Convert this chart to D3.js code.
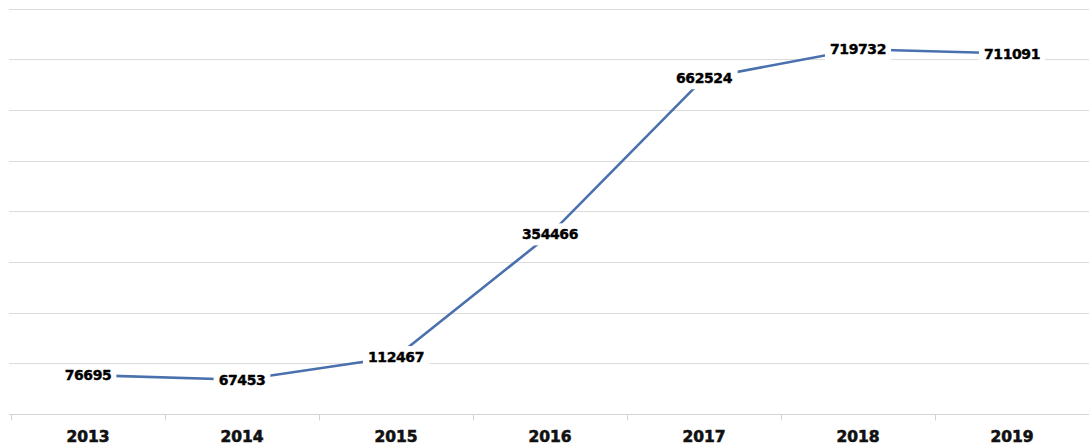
<!DOCTYPE html>
<html>
<head>
<meta charset="utf-8">
<script src="https://cdn.jsdelivr.net/npm/d3@7"></script>
<style>
  body { margin: 0; background: #fff; }
</style>
</head>
<body>
<script>
// data
const years = ["2013", "2014", "2015", "2016", "2017", "2018", "2019"];
const values = [76695, 67453, 112467, 354466, 662524, 719732, 711091];
const gridValues = [100000, 200000, 300000, 400000, 500000, 600000, 700000, 800000];

const width = 1089, height = 445;
const mLeft = 11, mRight = 1089, mTop = 8.5, mBottom = 414;

const svg = d3.select("body").append("svg")
    .attr("width", width)
    .attr("height", height);

const x = d3.scaleBand().domain(years).range([mLeft, mRight]);
const y = d3.scaleLinear().domain([0, 800000]).range([mBottom, mTop]);

// gridlines
svg.append("g")
  .selectAll("line")
  .data(gridValues)
  .join("line")
    .attr("x1", mLeft - 2)
    .attr("x2", mRight)
    .attr("y1", d => Math.round(y(d)) + 0.5)
    .attr("y2", d => Math.round(y(d)) + 0.5)
    .attr("stroke", "#dcdcdc")
    .attr("stroke-width", 1);

// x axis: baseline, ticks at band edges, bold year labels
const xAxis = svg.append("g")
    .attr("transform", `translate(0,${Math.round(mBottom) + 0.5})`);

xAxis.append("line")
    .attr("x1", mLeft - 2).attr("x2", mRight)
    .attr("stroke", "#d4d4d4");

xAxis.selectAll(".tk")
  .data(years)
  .join("line")
    .attr("class", "tk")
    .attr("x1", d => Math.round(x(d)) + 0.5)
    .attr("x2", d => Math.round(x(d)) + 0.5)
    .attr("y1", 0).attr("y2", 6)
    .attr("stroke", "#d4d4d4");

xAxis.selectAll("text")
  .data(years)
  .join("text")
    .attr("x", d => x(d) + x.bandwidth() / 2)
    .attr("y", 27)
    .attr("text-anchor", "middle")
    .style("font-family", "DejaVu Sans")
    .style("font-weight", "bold")
    .style("font-size", "15.5px")
    .style("fill", "#111")
    .style("stroke", "#111")
    .style("stroke-width", "0.6px")
    .text(d => d);

// line
const pts = years.map((d, i) => [x(d) + x.bandwidth() / 2, y(values[i])]);

svg.append("path")
    .datum(pts)
    .attr("fill", "none")
    .attr("stroke", "#4a70ad")
    .attr("stroke-width", 2.6)
    .attr("d", d3.line());

// value labels on white boxes, centred on the points
const lab = svg.append("g")
  .selectAll("g")
  .data(values)
  .join("g")
    .attr("transform", (d, i) => `translate(${pts[i][0]},${pts[i][1]})`);

lab.append("text")
    .attr("text-anchor", "middle")
    .attr("dy", "0.36em")
    .style("font-family", "DejaVu Sans")
    .style("font-weight", "bold")
    .style("font-size", "14px")
    .style("letter-spacing", "-0.4px")
    .style("fill", "#000")
    .style("stroke", "#000")
    .style("stroke-width", "0.4px")
    .text(d => d);

lab.each(function() {
  const g = d3.select(this);
  const b = g.select("text").node().getBBox();
  g.insert("rect", "text")
      .attr("x", b.x - 5)
      .attr("y", b.y - 3)
      .attr("width", b.width + 10)
      .attr("height", b.height + 6)
      .attr("fill", "#fff");
});
</script>
</body>
</html>
